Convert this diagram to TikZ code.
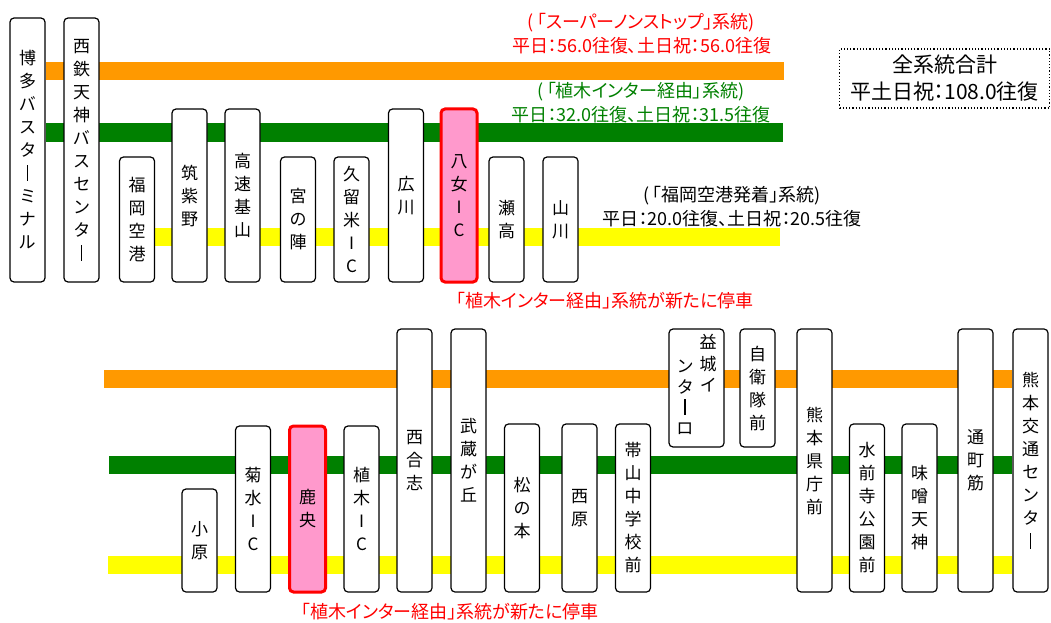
\documentclass[tikz,border=0pt]{standalone}
\usepackage{fontspec}
\setmainfont{Noto Sans CJK JP}[RawFeature=+palt]
\usepackage{xcolor}
\usepackage{tikz}
\usetikzlibrary{backgrounds}

\definecolor{bandorange}{RGB}{255,153,0}
\definecolor{bandgreen}{RGB}{0,128,0}
\definecolor{bandyellow}{RGB}{255,255,0}
\definecolor{stoppink}{RGB}{255,153,204}

% long vowel mark in vertical text
\newcommand{\chobar}{\rule[-1pt]{1.3pt}{16pt}}
\newcommand{\lpar}{(\kern3pt}

\begin{document}
\begin{tikzpicture}[x=1pt, y=-1pt,
      stopbox/.style={rectangle, draw, line width=1.2pt, rounded corners=4pt,
                      fill=white, inner sep=0pt, align=center, minimum width=35pt,
                      font=\fontsize{17}{23}\selectfont},
      newstop/.style={stopbox, fill=stoppink, draw=red, line width=3pt,
                      minimum width=36pt},
      band/.style={line width=18pt},
      oband/.style={band, draw=bandorange},
      gband/.style={band, draw=bandgreen},
      yband/.style={band, draw=bandyellow},
      lbl/.style={inner sep=0pt, align=center, font=\fontsize{18}{24}\selectfont},
    ]
    \useasboundingbox (0,0) rectangle (1051,623);

    % Free ends of the bands
    \coordinate (oendA) at (784,71);
    \coordinate (gendA) at (783,132.5);
    \coordinate (yendA) at (780,237);
    \coordinate (ostartB) at (104,378.5);
    \coordinate (gstartB) at (109,464.5);
    \coordinate (ystartB) at (108,565);

    % Upper part: stops from Hakata
    \node[stopbox, minimum height=264pt] (hakata) at (27.5,150)
      {博\\多\\バ\\ス\\タ\\\chobar\\ミ\\ナ\\ル};
    \node[stopbox, minimum height=264pt] (tenjin) at (81.5,150)
      {西\\鉄\\天\\神\\バ\\ス\\セ\\ン\\タ\\\chobar};
    \node[stopbox, minimum height=125pt] (airport) at (137,219.5)
      {福\\岡\\空\\港};
    \node[stopbox, minimum height=173pt] (chikushino) at (189.5,195.5)
      {筑\\紫\\野};
    \node[stopbox, minimum height=173pt] (kiyama) at (242.5,195.5)
      {高\\速\\基\\山};
    \node[stopbox, minimum height=125pt] (miyanojin) at (298,219.5)
      {宮\\の\\陣};
    \node[stopbox, minimum height=125pt] (kurume) at (351.5,219.5)
      {久\\留\\米\\I\\C};
    \node[stopbox, minimum height=173pt] (hirokawa) at (406,195.5)
      {広\\川};
    \node[newstop, minimum height=173pt] (yame) at (459,195.5)
      {八\\女\\I\\C};
    \node[stopbox, minimum height=125pt] (setaka) at (506.5,219.5)
      {瀬\\高};
    \node[stopbox, minimum height=125pt] (yamakawa) at (560.5,219.5)
      {山\\川};

    % Bands of the upper part
    \begin{scope}[on background layer]
    \draw[oband] (hakata.east |- oendA) -- (oendA);
    \draw[gband] (hakata.east |- gendA) -- (gendA);
    \draw[yband] (airport.east |- yendA) -- (yendA);
    \end{scope}

    % Labels of the upper part
    \node[lbl, text=red] (supernonstop) at (641.5,34)
      {\lpar「スーパーノンストップ」系統)\\平日：56.0往復、土日祝：56.0往復};
    \node[lbl, text=bandgreen] (uekivia) at (641,103)
      {\lpar「植木インター経由」系統)\\平日：32.0往復、土日祝：31.5往復};
    \node[lbl] (airportline) at (732,206.5)
      {\lpar「福岡空港発着」系統)\\平日：20.0往復、土日祝：20.5往復};
    \node[draw, dotted, line width=1.2pt, minimum width=210pt, minimum height=59pt,
          inner sep=0pt, align=center, font=\fontsize{21}{27}\selectfont]
      (total) at (944.5,78.5) {全系統合計\\平土日祝：108.0往復};
    \node[lbl, text=red] (newA) at (605,301)
      {「植木インター経由」系統が新たに停車};

    % Lower part: stops to Kumamoto
    \node[stopbox, minimum height=103pt] (ohara) at (199.5,540.5)
      {小\\原};
    \node[stopbox, minimum height=166pt] (kikusui) at (253,509)
      {菊\\水\\I\\C};
    \node[newstop, minimum height=166pt] (kao) at (307.5,509)
      {鹿\\央};
    \node[stopbox, minimum height=166pt] (ueki) at (361.5,509)
      {植\\木\\I\\C};
    \node[stopbox, minimum height=263pt] (nishigoshi) at (414.5,460.5)
      {西\\合\\志};
    \node[stopbox, minimum height=263pt] (musashi) at (468.5,460.5)
      {武\\蔵\\が\\丘};
    \node[stopbox, minimum height=168pt] (matsunomoto) at (522,508)
      {松\\の\\本};
    \node[stopbox, minimum height=168pt] (nishihara) at (579.5,508)
      {西\\原};
    \node[stopbox, minimum height=168pt] (obiyama) at (633,508)
      {帯\\山\\中\\学\\校\\前};
    \node[stopbox, minimum width=55pt, minimum height=118pt] (mashiki) at (696.5,388) {};
    \node[lbl, font=\fontsize{17}{21.5}\selectfont] at (708,363.5) {益\\城\\イ};
    \node[lbl, font=\fontsize{17}{20.5}\selectfont] at (685,397.5) {ン\\タ\\\chobar\\ロ};
    \node[stopbox, minimum height=118pt] (jieitai) at (757.5,388)
      {自\\衛\\隊\\前};
    \node[stopbox, minimum height=263pt] (kencho) at (814.5,460.5)
      {熊\\本\\県\\庁\\前};
    \node[stopbox, minimum height=168pt] (suizenji) at (867,508)
      {水\\前\\寺\\公\\園\\前};
    \node[stopbox, minimum height=168pt] (misotenjin) at (919.5,508)
      {味\\噌\\天\\神};
    \node[stopbox, minimum height=263pt] (torichosuji) at (975.5,460.5)
      {通\\町\\筋};
    \node[stopbox, minimum height=263pt] (kotsu) at (1030.5,460.5)
      {熊\\本\\交\\通\\セ\\ン\\タ\\\chobar};

    % Bands of the lower part
    \begin{scope}[on background layer]
    \draw[oband] (ostartB) -- (kotsu.west |- ostartB);
    \draw[gband] (gstartB) -- (kotsu.west |- gstartB);
    \draw[yband] (ystartB) -- (kotsu.west |- ystartB);
    \end{scope}

    \node[lbl, text=red] (newB) at (450,612)
      {「植木インター経由」系統が新たに停車};

\end{tikzpicture}
\end{document}
